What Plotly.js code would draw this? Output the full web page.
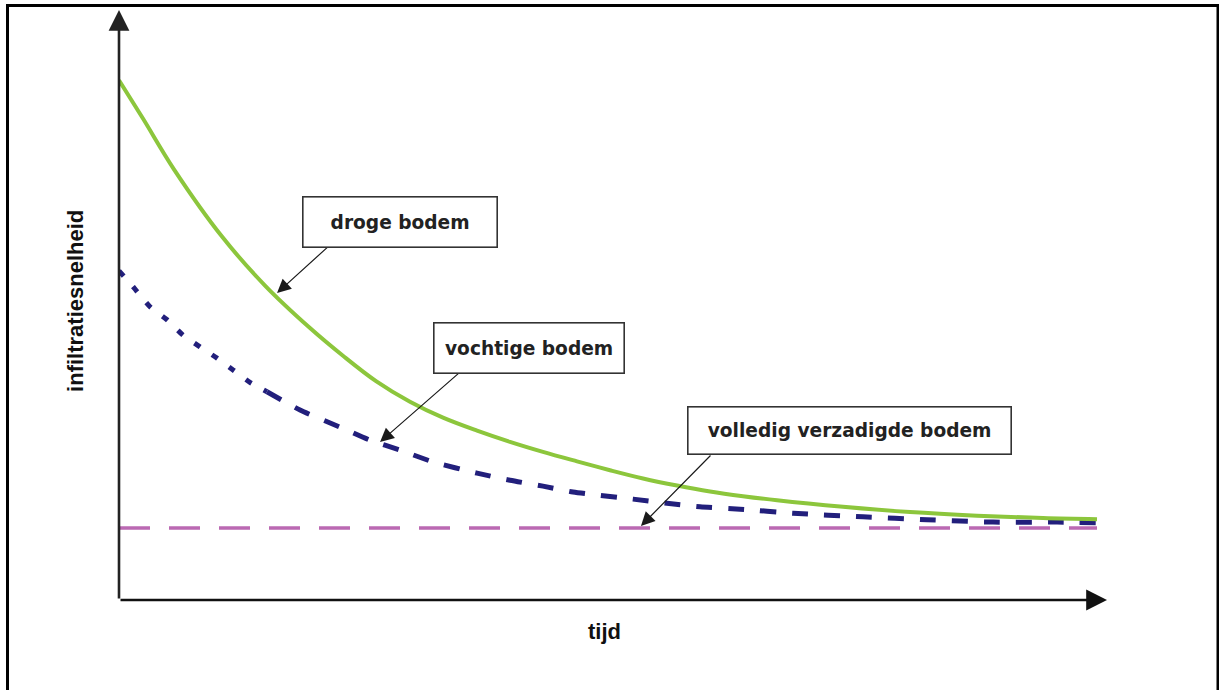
<!DOCTYPE html>
<html>
<head>
<meta charset="utf-8">
<script src="https://cdn.plot.ly/plotly-3.0.1.min.js"></script>
<style>
  html, body { margin: 0; padding: 0; background: #ffffff; }
  #chart { width: 1219px; height: 690px; }
</style>
</head>
<body>
<div id="chart"></div>
<script>
// ---- data (time units 0..100, infiltration units 0..100) ----
const drogeX = [0, 2.45, 5.62, 10.53, 14.93, 19.53, 22.90, 26.28, 29.75, 33.13, 36.61, 39.98, 43.35, 46.83, 50.20, 53.58, 57.06, 60.43, 63.80, 67.28, 74.03, 80.88, 87.73, 94.48, 100];
const drogeY = [88.1, 81.6, 73.0, 61.6, 53.3, 46.1, 41.4, 37.1, 33.6, 30.9, 28.7, 26.8, 25.1, 23.5, 22.0, 20.6, 19.4, 18.4, 17.6, 16.9, 15.8, 14.9, 14.3, 13.9, 13.7];

const vochtigX = [0, 1.43, 3.17, 4.91, 6.54, 8.28, 10.02, 11.66, 13.39, 15.13, 18.51, 22.60, 25.66, 28.73, 32.11, 36.61, 39.98, 43.35, 46.42, 52.56, 56.03, 59.41, 63.50, 68.92, 76.07, 82.62, 89.37, 95.91, 100];
const vochtigY = [55.8, 53.1, 49.7, 47.5, 44.9, 42.9, 41.0, 39.0, 36.9, 35.3, 32.2, 29.3, 27.1, 25.4, 23.4, 21.5, 20.3, 19.3, 18.3, 17.1, 16.4, 15.8, 15.4, 14.7, 14.1, 13.6, 13.2, 13.2, 13.1];

const verzadigdX = [0, 100];
const verzadigdY = [12.2, 12.2];

const labels = {
  droge: "droge bodem",
  vochtig: "vochtige bodem",
  verzadigd: "volledig verzadigde bodem",
  xTitle: "tijd",
  yTitle: "infiltratiesnelheid"
};

// split point where the blue line's dash pattern changes (time value)
const vochtigSplit = 15.13;

// ---- traces ----
const earlyX = [], earlyY = [], lateX = [], lateY = [];
vochtigX.forEach((x, i) => {
  if (x <= vochtigSplit) { earlyX.push(x); earlyY.push(vochtigY[i]); }
  if (x >= vochtigSplit) { lateX.push(x); lateY.push(vochtigY[i]); }
});

const traces = [
  { x: verzadigdX, y: verzadigdY, mode: 'lines', hoverinfo: 'skip',
    line: { color: '#bb69b3', width: 3.5, dash: '31px,19px' } },
  { x: earlyX, y: earlyY, mode: 'lines', hoverinfo: 'skip',
    line: { color: '#221f7c', width: 5, dash: '7px,14px', shape: 'spline', smoothing: 0.6 } },
  { x: lateX, y: lateY, mode: 'lines', hoverinfo: 'skip',
    line: { color: '#221f7c', width: 5, dash: '16px,16px', shape: 'spline', smoothing: 0.6 } },
  { x: drogeX, y: drogeY, mode: 'lines', hoverinfo: 'skip',
    line: { color: '#8cc63c', width: 4, shape: 'spline', smoothing: 1 } }
];

// ---- layout ----
const boxFont = { family: 'DejaVu Sans', size: 18.6, color: '#222222', weight: 'bold' };
const titleFont = { family: 'Liberation Sans, Arial, sans-serif', size: 22, color: '#111111', weight: 'bold' };

function box(text, x, y, w, h) {
  return { text: text, x: x, y: y, xref: 'x', yref: 'y', showarrow: false,
    width: w, height: h, align: 'center', valign: 'middle',
    bgcolor: '#ffffff', bordercolor: '#333333', borderwidth: 1.6, borderpad: 0,
    font: boxFont };
}
function pointer(x, y, ax, ay) {
  return { text: '', x: x, y: y, ax: ax, ay: ay, xref: 'x', yref: 'y', axref: 'x', ayref: 'y',
    showarrow: true, arrowhead: 2, arrowsize: 2.3, arrowwidth: 1.2, arrowcolor: '#1a1a1a', standoff: 0 };
}

const annotations = [
  // axes with arrow heads
  { text: '', xref: 'paper', yref: 'paper', x: 0, y: 1, ax: 0, ay: 590, axref: 'pixel', ayref: 'pixel',
    showarrow: true, arrowhead: 2, arrowsize: 1.6, arrowwidth: 2.6, arrowcolor: '#222222', standoff: 0 },
  { text: '', xref: 'paper', yref: 'paper', x: 1, y: 0, ax: -988, ay: 0, axref: 'pixel', ayref: 'pixel',
    showarrow: true, arrowhead: 2, arrowsize: 1.6, arrowwidth: 2.6, arrowcolor: '#111111', standoff: 0 },
  // axis titles
  { text: labels.yTitle, xref: 'paper', yref: 'paper', x: -0.0435, y: 0.507, textangle: -90,
    showarrow: false, font: titleFont, xanchor: 'center', yanchor: 'middle' },
  { text: labels.xTitle, xref: 'paper', yref: 'paper', x: 0.4919, y: -0.054,
    showarrow: false, font: titleFont, xanchor: 'center', yanchor: 'middle' },
  // pointers
  pointer(16.16, 52.03, 21.57, 60.17),
  pointer(26.69, 26.78, 34.87, 38.64),
  pointer(53.37, 12.54, 60.63, 24.75),
  // labels
  box(labels.droge, 28.78, 64.07, 193, 49),
  box(labels.vochtig, 41.87, 42.71, 189, 49),
  box(labels.verzadigd, 74.74, 28.73, 322, 46)
];

const layout = {
  width: 1219, height: 690,
  margin: { l: 119, r: 112, t: 10, b: 90, pad: 0 },
  paper_bgcolor: '#ffffff', plot_bgcolor: '#ffffff',
  showlegend: false,
  xaxis: { range: [0, 101.02], visible: false, fixedrange: true },
  yaxis: { range: [0, 100], visible: false, fixedrange: true },
  annotations: annotations,
  shapes: [
    { type: 'rect', xref: 'paper', yref: 'paper', x0: -0.11285, x1: 1.11235, y0: -0.1695, y1: 1.00763,
      line: { color: '#000000', width: 3 }, fillcolor: 'rgba(0,0,0,0)', layer: 'above' }
  ]
};

Plotly.newPlot('chart', traces, layout, { displayModeBar: false, staticPlot: true });
</script>
</body>
</html>
